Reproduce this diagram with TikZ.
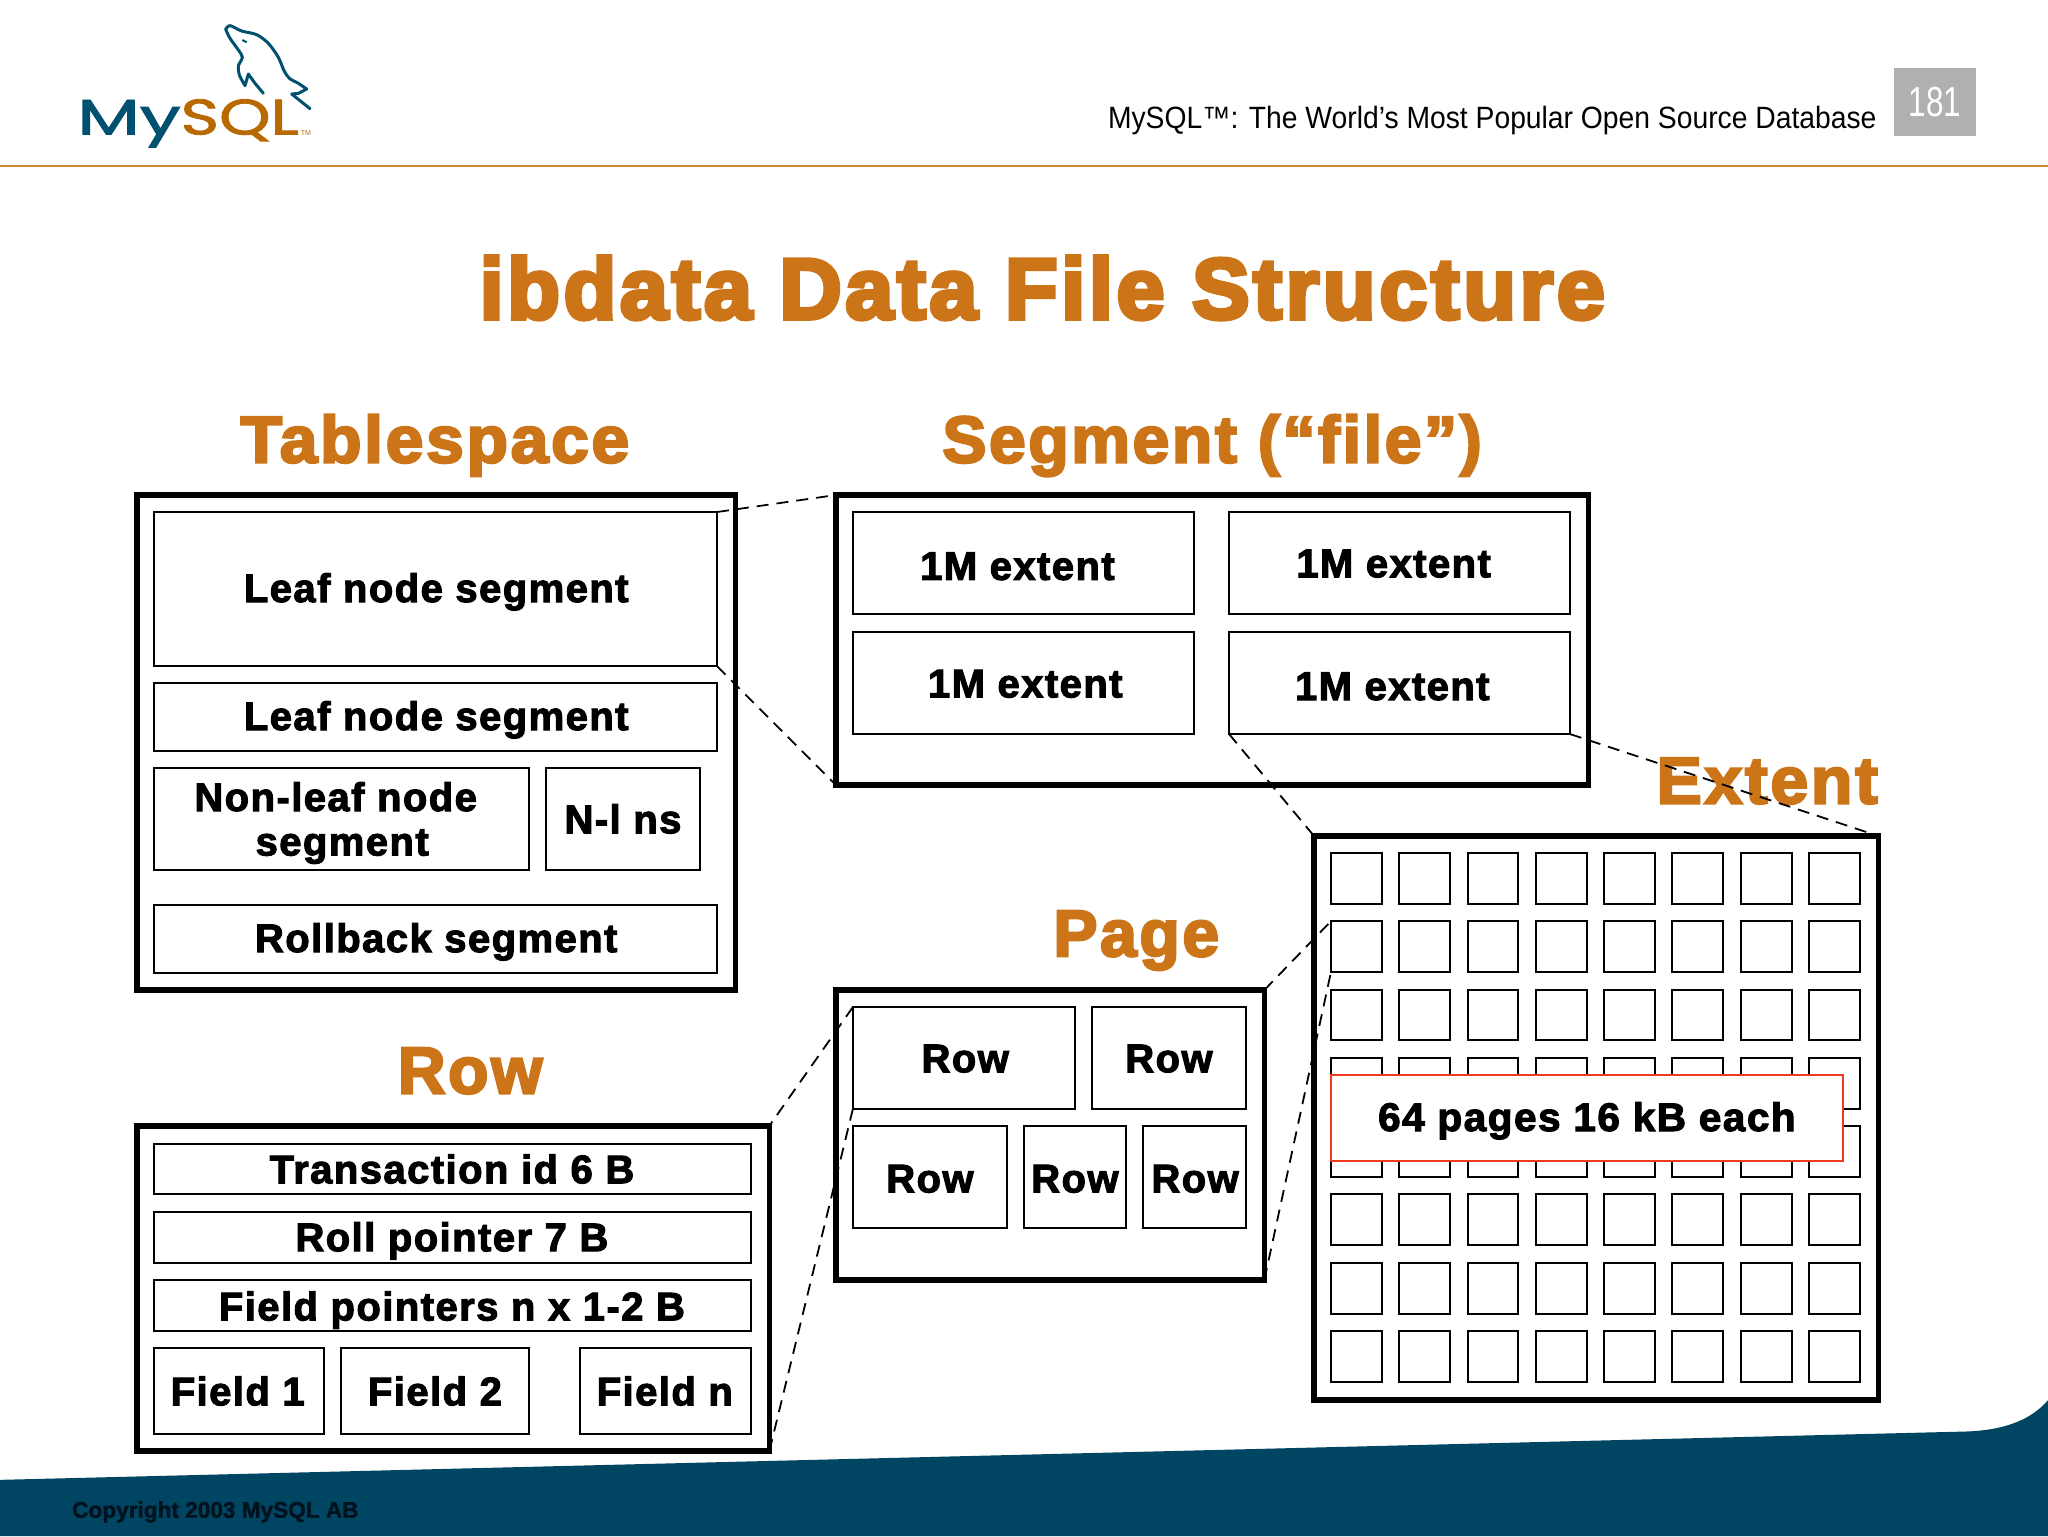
\documentclass[tikz,border=0pt]{standalone}
\usepackage{fontspec}
\setmainfont{Liberation Sans}
\newfontfamily\hvf[BoldFeatures={FakeBold=2.6,LetterSpace=3.6}]{Liberation Sans}
\newfontfamily\hdf[BoldFeatures={FakeBold=3.6,LetterSpace=4}]{Liberation Sans}
\newfontfamily\ttf[BoldFeatures={FakeBold=5,LetterSpace=4.4}]{Liberation Sans}
\newfontfamily\cpf[BoldFeatures={FakeBold=1.6}]{Liberation Sans}
\newfontfamily\lgf[FakeBold=1.6]{Poppins}
\definecolor{mysqlor}{HTML}{CC7418}
\definecolor{lineor}{HTML}{CF8538}
\definecolor{mysqlbl}{HTML}{004562}
\definecolor{logobl}{HTML}{00516F}
\definecolor{logoor}{HTML}{B86A00}
\definecolor{redb}{HTML}{EE3B1F}
\definecolor{copyc}{HTML}{00121D}
\newcommand{\bx}[6][thin box]{\node[#1,minimum width={(#4-#2)*0.65306pt},minimum height={(#5-#3)*0.65306pt}] (#6) at ({(#2+#4)/2},{(#3+#5)/2}) {};}
\tikzset{
  thin box/.style={draw=black,line width=1pt,fill=white,inner sep=0,outer sep=0},
  thick box/.style={draw=black,line width=2.7pt,fill=white,inner sep=0,outer sep=0},
  red box/.style={draw=redb,line width=1pt,fill=white,inner sep=0,outer sep=0},
  lbl/.style={font=\hvf\bfseries\fontsize{20pt}{24pt}\selectfont,text height=14.3pt,text depth=0pt,inner sep=0,black},
  head/.style={font=\hdf\bfseries\fontsize{33pt}{36pt}\selectfont,text=mysqlor,text height=23.6pt,text depth=0pt,inner sep=0},
  zoomline/.style={draw=black,line width=0.9pt,dash pattern=on 6pt off 4pt},
}
\begin{document}
\begin{tikzpicture}[x=0.65306pt,y=-0.65306pt]
\useasboundingbox (0,0) rectangle (1568,1176);
\fill[white] (0,0) rectangle (1568,1176);
% footer
\fill[mysqlbl] (0,1176) -- (0,1133) -- (1505,1096) .. controls (1535,1095) and (1555,1087) .. (1568,1072) -- (1568,1176) -- cycle;
\node[anchor=base west,inner sep=0,font=\cpf\bfseries\fontsize{11.3pt}{13pt}\selectfont,text=copyc] (copy) at (55,1162) {Copyright 2003 MySQL AB};
% header
\draw[lineor,line width=1.3pt] (0,127) -- (1568,127);
\node[anchor=base east,inner sep=0,font=\fontsize{15.4pt}{18pt}\selectfont] (tag) at (1437,98) {\scalebox{.918}[1]{MySQL™: The World’s Most Popular Open Source Database}};
\node[fill={rgb,255:red,176;green,176;blue,176},minimum width=41pt,minimum height=34pt,inner sep=0,text=white,font=\fontsize{21pt}{24pt}\selectfont] (pageno) at (1481.5,78) {\scalebox{.75}[1]{181}};
% logo
\node[anchor=base west,inner sep=0,text=logobl,font=\lgf\fontsize{25pt}{28pt}\selectfont] (my) at (59,103) {\scalebox{1.45}[1]{My}};
\node[anchor=base west,inner sep=0,text=logoor,font=\lgf\fontsize{25pt}{28pt}\selectfont] (sql) at (138,103) {\scalebox{1.31}[1]{SQL}};
\node[anchor=base west,inner sep=0,text=logoor,font=\fontsize{3.5pt}{4pt}\selectfont] (tm) at (230,104) {TM};
\begin{scope}[x=0.16668pt,y=-0.16668pt]
\draw[logobl,line width=1.5pt,line join=round,line cap=round] plot[smooth,tension=.5] coordinates {(677,88) (690,77) (725,93) (770,104) (805,130) (835,172) (852,212) (868,235) (895,250) (920,267)}
  -- (895,280) -- (875,282) -- (930,326);
\draw[logobl,line width=1.5pt,line join=round,line cap=round] plot[smooth,tension=.5] coordinates {(677,88) (690,115) (715,150) (727,172) (715,198) (718,225) (735,257)}
  -- (745,222) -- (765,250) -- (790,280);
\draw[logobl,line width=1pt] (727,120) -- (740,127);
\end{scope}
% title and headings
\node[head,font=\ttf\bfseries\fontsize{43pt}{48pt}\selectfont,text height=30pt] (title) at (798,221) {ibdata Data File Structure};
\node[head] (h1) at (333,336) {\scalebox{1.027}[1]{Tablespace}};
\node[head] (h2) at (928,336) {Segment (“file”)};
\node[head] (h3) at (1353,597) {\scalebox{1.03}[1]{Extent}};
\node[head] (h4) at (870,714) {Page};
\node[head] (h5) at (360,819) {Row};
% tablespace
\bx[thick box]{105}{379}{563}{758}{ts}
\bx{118}{392}{549}{510}{tsa}
\bx{118}{523}{549}{575}{tsb}
\bx{118}{588}{405}{666}{tsc}
\bx{418}{588}{536}{666}{tsd}
\bx{118}{693}{549}{745}{tse}
\node[lbl] (ta) at (334,450) {Leaf node segment};
\node[lbl] (tb) at (334,548) {Leaf node segment};
\node[lbl] (tc1) at (257,610) {Non-leaf node};
\node[lbl] (tc2) at (262,644) {segment};
\node[lbl] (td) at (477,627) {N-l ns};
\node[lbl] (te) at (334,718) {Rollback segment};
% segment
\bx[thick box]{640}{379}{1216}{601}{sg}
\bx{653}{392}{914}{470}{sga}
\bx{941}{392}{1202}{470}{sgb}
\bx{653}{484}{914}{562}{sgc}
\bx{941}{484}{1202}{562}{sgd}
\node[lbl] (sa) at (779,433) {1M extent};
\node[lbl] (sb) at (1067,431) {1M extent};
\node[lbl] (sc) at (785,523) {1M extent};
\node[lbl] (sd) at (1066,525) {1M extent};
% extent
\bx[thick box]{1006}{640}{1438}{1072}{ex}
\foreach \r in {0,...,7}{
  \foreach \c in {0,...,7}{
    \pgfmathsetmacro{\xa}{1019+52.29*\c}
    \pgfmathsetmacro{\ya}{653+52.29*\r}
    \pgfmathsetmacro{\xb}{\xa+39}
    \pgfmathsetmacro{\yb}{\ya+39}
    \bx{\xa}{\ya}{\xb}{\yb}{cell-\r-\c}
  }
}
\bx[red box]{1019}{823}{1411}{889}{note}
\node[lbl] (notet) at (1215,855) {\scalebox{1.015}[1]{64 pages 16 kB each}};
% page
\bx[thick box]{640}{758}{968}{980}{pg}
\bx{653}{771}{823}{849}{pga}
\bx{836}{771}{954}{849}{pgb}
\bx{653}{862}{771}{940}{pgc}
\bx{784}{862}{862}{940}{pgd}
\bx{875}{862}{954}{940}{pge}
\node[lbl] (pa) at (739,810) {Row};
\node[lbl] (pb) at (895,810) {Row};
\node[lbl] (pc) at (712,902) {Row};
\node[lbl] (pd) at (823,902) {Row};
\node[lbl] (pe) at (915,902) {Row};
% row
\bx[thick box]{105}{862}{589}{1111}{rw}
\bx{118}{876}{575}{914}{rwa}
\bx{118}{928}{575}{967}{rwb}
\bx{118}{980}{575}{1019}{rwc}
\bx{118}{1032}{248}{1098}{rwd}
\bx{261}{1032}{405}{1098}{rwe}
\bx{444}{1032}{575}{1098}{rwf}
\node[lbl] (ra) at (346,895) {Transaction id 6 B};
\node[lbl] (rb) at (346,947) {Roll pointer 7 B};
\node[lbl] (rc) at (346,1000) {Field pointers n x 1-2 B};
\node[lbl] (rd) at (182,1065) {Field 1};
\node[lbl] (re) at (333,1065) {Field 2};
\node[lbl] (rf) at (509,1065) {Field n};
% connectors
\draw[zoomline] (tsa.north east) -- (sg.north west);
\draw[zoomline] (tsa.south east) -- (sg.south west);
\draw[zoomline] (sgd.south west) -- (ex.north west);
\draw[zoomline] (sgd.south east) -- (ex.north east);
\draw[zoomline] (pg.north east) -- (cell-1-0.north west);
\draw[zoomline] (pg.south east) -- (cell-1-0.south west);
\draw[zoomline] (pga.north west) -- (rw.north east);
\draw[zoomline] (pga.south west) -- (rw.south east);
\end{tikzpicture}
\end{document}
